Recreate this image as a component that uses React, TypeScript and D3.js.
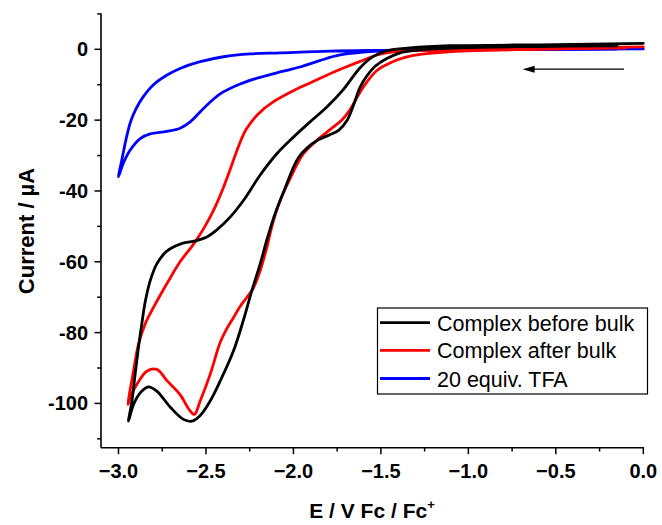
import React from 'react';
import * as d3 from 'd3';

const xTicks = [-3.0, -2.5, -2.0, -1.5, -1.0, -0.5, 0.0];
const xMinorTicks = [-2.75, -2.25, -1.75, -1.25, -0.75, -0.25];
const yTicks = [0, -20, -40, -60, -80, -100];
const yMinorTicks = [10, -10, -30, -50, -70, -90, -110];
const seriesNames = ['Complex before bulk', 'Complex after bulk', '20 equiv. TFA'];
const seriesColors = ['#000000', '#ff0000', '#0000ff'];

const beforeBulk: [number, number][] = [
  [-0.15, 1.0], [-0.6, 0.8], [-1.0, 0.5], [-1.2, 0.1], [-1.3, -0.3], [-1.39, -1.0], [-1.466, -2.6],
  [-1.533, -4.8], [-1.58, -7.5], [-1.62, -10.8], [-1.657, -15.8], [-1.695, -20.2], [-1.74, -22.8],
  [-1.8, -24.3], [-1.86, -25.6], [-1.923, -27.9], [-1.97, -30.5], [-2.0, -33.3], [-2.05, -39.5],
  [-2.105, -46.4], [-2.15, -53.5], [-2.19, -60.6], [-2.238, -68.2], [-2.286, -76.5], [-2.343, -85.2],
  [-2.419, -93.7], [-2.476, -99.3], [-2.533, -103.4], [-2.581, -105.0], [-2.629, -104.5],
  [-2.705, -101.0], [-2.781, -96.5], [-2.829, -95.3], [-2.876, -97.0], [-2.914, -100.3], [-2.943, -105.0],
  [-2.923, -99.3], [-2.905, -91.8], [-2.886, -84.2], [-2.867, -77.6], [-2.848, -71.5], [-2.819, -65.4],
  [-2.781, -60.6], [-2.724, -57.0], [-2.648, -55.0], [-2.552, -54.0], [-2.495, -53.0], [-2.438, -51.0],
  [-2.362, -47.4], [-2.286, -42.7], [-2.19, -35.5], [-2.095, -29.5], [-2.0, -24.8], [-1.905, -20.5],
  [-1.809, -16.3], [-1.714, -11.3], [-1.619, -5.2], [-1.543, -2.0], [-1.466, -0.4], [-1.333, 0.4],
  [-1.105, 1.0], [-0.5, 1.3], [0, 1.7],
];

const afterBulk: [number, number][] = [
  [-0.1, 0.4], [-0.6, 0.0], [-1.0, -0.4], [-1.238, -1.2], [-1.333, -1.9], [-1.409, -3.0], [-1.466, -4.3],
  [-1.523, -6.0], [-1.6, -10.6], [-1.676, -17.0], [-1.72, -19.8], [-1.771, -21.9], [-1.866, -25.7],
  [-1.943, -29.5], [-2.019, -36.5], [-2.076, -42.7], [-2.115, -48.5], [-2.152, -55.9], [-2.19, -62.5],
  [-2.229, -67.4], [-2.27, -70.3], [-2.305, -72.6], [-2.343, -75.8], [-2.38, -78.8], [-2.419, -82.8],
  [-2.476, -91.8], [-2.533, -99.3], [-2.566, -103.1], [-2.595, -101.8], [-2.648, -97.5], [-2.724, -93.5],
  [-2.781, -90.4], [-2.838, -90.9], [-2.895, -94.6], [-2.933, -98.4], [-2.946, -100.3],
  [-2.914, -90.8], [-2.886, -83.3], [-2.848, -77.6], [-2.8, -72.9], [-2.752, -68.6], [-2.7, -64.2],
  [-2.648, -60.0], [-2.571, -55.0], [-2.514, -50.7], [-2.457, -45.5], [-2.4, -39.0], [-2.362, -34.0],
  [-2.32, -28.2], [-2.27, -22.6], [-2.2, -18.2], [-2.12, -15.0], [-2.0, -11.7], [-1.905, -9.5],
  [-1.809, -7.3], [-1.714, -5.3], [-1.619, -3.4], [-1.523, -1.6], [-1.428, -0.7], [-1.2, -0.2],
  [-0.6, 0.3], [0, 0.7],
];

const tfa: [number, number][] = [
  [-0.15, 0.0], [-0.8, -0.1], [-1.3, -0.25], [-1.54, -0.6], [-1.733, -1.6], [-1.85, -3.2], [-1.962, -5.0],
  [-2.076, -6.4], [-2.19, -7.9], [-2.305, -9.8], [-2.419, -12.6], [-2.514, -16.7], [-2.59, -20.5],
  [-2.648, -22.3], [-2.724, -23.2], [-2.819, -23.9], [-2.876, -25.2], [-2.935, -28.6], [-2.975, -32.5],
  [-3.0, -36.0],
  [-2.98, -31.0], [-2.955, -25.0], [-2.93, -20.3], [-2.9, -16.8], [-2.86, -13.5], [-2.8, -10.0],
  [-2.72, -7.2], [-2.648, -5.4], [-2.533, -3.5], [-2.4, -2.1], [-2.248, -1.3], [-2.076, -1.0],
  [-1.79, -0.5], [-1.5, -0.3], [-1.0, -0.1], [-0.5, 0.0], [0, 0.1],
];

const seriesData = [beforeBulk, afterBulk, tfa];
const arrowFrom: [number, number] = [-0.11, -5.6];
const arrowTo: [number, number] = [-0.69, -5.6];

const FONT = "'Liberation Sans', Arial, Helvetica, sans-serif";

export default function App() {
  const W = 662;
  const H = 525;
  const x = d3.scaleLinear().domain([-3.1, 0]).range([101, 643.3]);
  const y = d3.scaleLinear().domain([10, -112.5]).range([13.9, 447.7]);
  const line = d3
    .line<[number, number]>()
    .x((d) => x(d[0]))
    .y((d) => y(d[1]))
    .curve(d3.curveCatmullRom.alpha(0.5));

  const x0 = x.range()[0];
  const y0 = y.range()[1];
  const fmtX = d3.format('.1f');

  const ax1 = x(arrowFrom[0]);
  const ax2 = x(arrowTo[0]);
  const ay = y(arrowFrom[1]);

  const legX = 377.5;
  const legY = 308;
  const legW = 270;
  const legH = 86;
  const rowY = [322.7, 350.3, 378.5];

  return (
    <svg
      width={W}
      height={H}
      viewBox={`0 0 ${W} ${H}`}
      style={{ position: 'absolute', left: 0, top: 0, background: '#fff' }}
      fontFamily={FONT}
    >
      <rect x={0} y={0} width={W} height={H} fill="#fff" />
      {[2, 1, 0].map((i) => (
        <path
          key={i}
          d={line(seriesData[i]) || ''}
          fill="none"
          stroke={seriesColors[i]}
          strokeWidth={2.8}
          strokeLinejoin="round"
          strokeLinecap="round"
        />
      ))}
      <line x1={ax1} y1={ay} x2={ax2 + 10} y2={ay} stroke="#000" strokeWidth={1.3} />
      <path d={`M${ax2},${ay} L${ax2 + 12},${ay - 3.5} L${ax2 + 12},${ay + 3.5} Z`} fill="#000" />

      <line x1={x0} y1={y.range()[0] - 0.5} x2={x0} y2={y0} stroke="#000" strokeWidth={1.6} />
      <line x1={x0} y1={y0} x2={x.range()[1] + 0.8} y2={y0} stroke="#000" strokeWidth={1.6} />
      {xTicks.map((t) => (
        <g key={'xt' + t}>
          <line x1={x(t)} x2={x(t)} y1={y0} y2={y0 + 6.5} stroke="#000" strokeWidth={1.5} />
          <text x={x(t)} y={478} textAnchor="middle" fontSize={20} fontWeight="bold" fill="#000">
            {fmtX(t)}
          </text>
        </g>
      ))}
      {xMinorTicks.map((t) => (
        <line key={'xm' + t} x1={x(t)} x2={x(t)} y1={y0} y2={y0 + 3.8} stroke="#000" strokeWidth={1.5} />
      ))}
      {yTicks.map((t) => (
        <g key={'yt' + t}>
          <line x1={x0 - 6.5} x2={x0} y1={y(t)} y2={y(t)} stroke="#000" strokeWidth={1.5} />
          <text x={88} y={y(t) + 7} textAnchor="end" fontSize={20} fontWeight="bold" fill="#000">
            {t}
          </text>
        </g>
      ))}
      {yMinorTicks.map((t) => (
        <line key={'ym' + t} x1={x0 - 3.8} x2={x0} y1={y(t)} y2={y(t)} stroke="#000" strokeWidth={1.5} />
      ))}

      <text x={372} y={518} textAnchor="middle" fontSize={21} fontWeight="bold" fill="#000">
        E / V Fc / Fc
        <tspan fontSize={13} dy={-9}>+</tspan>
      </text>
      <text
        transform={`translate(34, 231) rotate(-90)`}
        textAnchor="middle"
        fontSize={22}
        fontWeight="bold"
        fill="#000"
      >
        Current / µA
      </text>

      <rect x={legX} y={legY} width={legW} height={legH} fill="#fff" stroke="#000" strokeWidth={1.2} />
      {seriesNames.map((n, i) => (
        <g key={n}>
          <line x1={380} x2={430} y1={rowY[i]} y2={rowY[i]} stroke={seriesColors[i]} strokeWidth={2.8} />
          <text x={437} y={rowY[i] + 8} fontSize={21.5} fill="#000">
            {n}
          </text>
        </g>
      ))}
    </svg>
  );
}
